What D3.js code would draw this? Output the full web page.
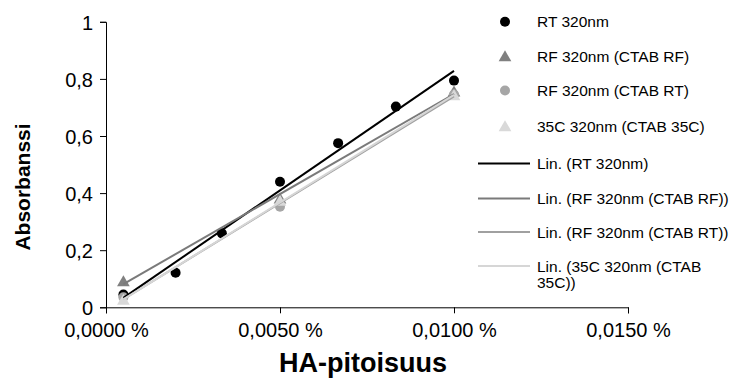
<!DOCTYPE html>
<html>
<head>
<meta charset="utf-8">
<script src="https://cdn.jsdelivr.net/npm/d3@7"></script>
<style>
  html, body { margin: 0; padding: 0; background: #fff; }
  svg { display: block; font-family: "Liberation Sans", Arial, sans-serif; }
</style>
</head>
<body>
<svg id="chart" width="735" height="380"></svg>
<script>
// HA concentration (%) vs absorbance at 320 nm
const xRT = [0.0005, 0.002, 0.00333, 0.005, 0.00667, 0.00833, 0.01];
const yRT = [0.045, 0.121, 0.259, 0.44, 0.575, 0.703, 0.794];

const xCal = [0.0005, 0.005, 0.01];
const yRF_RF = [0.09, 0.38, 0.755];
const yRF_RT = [0.035, 0.352, 0.745];
const y35C = [0.025, 0.372, 0.742];

const xTicks = [0, 0.005, 0.01, 0.015];
const yTicks = [0, 0.2, 0.4, 0.6, 0.8, 1];

const seriesNames = ["RT 320nm", "RF 320nm (CTAB RF)", "RF 320nm (CTAB RT)", "35C 320nm (CTAB 35C)"];
const trendNames = ["Lin. (RT 320nm)", "Lin. (RF 320nm (CTAB RF))", "Lin. (RF 320nm (CTAB RT))", ["Lin. (35C 320nm (CTAB", "35C))"]];

const series = [
  { name: seriesNames[0], xs: xRT,  ys: yRT,    shape: "circle",   color: "#000000", line: "#000000" },
  { name: seriesNames[1], xs: xCal, ys: yRF_RF, shape: "triangle", color: "#808080", line: "#7a7a7a" },
  { name: seriesNames[2], xs: xCal, ys: yRF_RT, shape: "circle",   color: "#a6a6a6", line: "#a0a0a0" },
  { name: seriesNames[3], xs: xCal, ys: y35C,   shape: "triangle", color: "#d9d9d9", line: "#d6d6d6" }
];

// least-squares linear fit
function linFit(xs, ys) {
  const n = xs.length;
  const mx = d3.mean(xs), my = d3.mean(ys);
  let sxy = 0, sxx = 0;
  for (let i = 0; i < n; i++) { sxy += (xs[i] - mx) * (ys[i] - my); sxx += (xs[i] - mx) ** 2; }
  const b = sxy / sxx;
  return { slope: b, intercept: my - b * mx };
}

const svg = d3.select("#chart");
const x = d3.scaleLinear().domain([0, 0.015]).range([106, 628]);
const y = d3.scaleLinear().domain([0, 1]).range([307.3, 21.8]);

const fmtX = d => d3.format(".4f")(d).replace(".", ",") + " %";
const fmtY = d => (d === 0 || d === 1) ? String(d) : String(d).replace(".", ",");

// axes
const xAxis = svg.append("g").attr("transform", `translate(0,${y(0)})`)
  .call(d3.axisBottom(x).tickValues(xTicks).tickFormat(fmtX).tickSizeOuter(0).tickSize(6));
const yAxis = svg.append("g").attr("transform", `translate(${x(0)},0)`)
  .call(d3.axisLeft(y).tickValues(yTicks).tickFormat(fmtY).tickSizeOuter(0).tickSize(6));

[xAxis, yAxis].forEach(a => {
  a.select(".domain").attr("stroke", "#000").attr("stroke-width", 1);
  a.selectAll(".tick line").attr("stroke", "#000");
  a.selectAll(".tick text").attr("fill", "#000").style("font-size", "20px")
    .style("font-family", "Liberation Sans, Arial, sans-serif");
});
xAxis.selectAll(".tick text").attr("dy", "1.05em");
yAxis.selectAll(".tick text").attr("x", -13).attr("dy", "0.36em");

// axis titles
svg.append("text").attr("x", 363).attr("y", 372).attr("text-anchor", "middle")
  .style("font-size", "27px").style("font-weight", "bold").text("HA-pitoisuus");
svg.append("text").attr("transform", "translate(30,187) rotate(-90)").attr("text-anchor", "middle")
  .style("font-size", "21px").style("font-weight", "bold").text("Absorbanssi");

const triPath = d3.symbol().type(d3.symbolTriangle).size(70)();
function drawMarker(g, shape, color, cx, cy) {
  if (shape === "circle") {
    g.append("circle").attr("cx", cx).attr("cy", cy).attr("r", 5).attr("fill", color);
  } else {
    g.append("path").attr("d", triPath).attr("transform", `translate(${cx},${cy + 1})`).attr("fill", color);
  }
}

// markers and trendlines
const plot = svg.append("g");
series.forEach(s => {
  const g = plot.append("g");
  s.xs.forEach((xv, i) => drawMarker(g, s.shape, s.color, x(xv), y(s.ys[i])));
});
series.forEach(s => {
  const f = linFit(s.xs, s.ys);
  const [x0, x1] = d3.extent(s.xs);
  plot.append("line")
    .attr("x1", x(x0)).attr("y1", y(f.intercept + f.slope * x0))
    .attr("x2", x(x1)).attr("y2", y(f.intercept + f.slope * x1))
    .attr("stroke", s.line).attr("stroke-width", 2);
});

// legend
const leg = svg.append("g").style("font-size", "15.5px");
const rowY = [21.7, 56.7, 90.5, 126.5, 163.5, 198.5, 232, 266];
series.forEach((s, i) => {
  drawMarker(leg, s.shape, s.color, 505, rowY[i]);
  leg.append("text").attr("x", 537).attr("y", rowY[i]).attr("dy", "0.36em").text(s.name);
});
series.forEach((s, i) => {
  const yy = rowY[4 + i];
  leg.append("line").attr("x1", 478).attr("x2", 530).attr("y1", yy).attr("y2", yy)
    .attr("stroke", s.line).attr("stroke-width", 2);
  const label = trendNames[i];
  const t = leg.append("text").attr("x", 537).attr("y", yy).attr("dy", "0.36em");
  if (Array.isArray(label)) {
    t.text(label[0]);
    leg.append("text").attr("x", 537).attr("y", yy + 16).attr("dy", "0.36em").text(label[1]);
  } else {
    t.text(label);
  }
});
</script>
</body>
</html>
